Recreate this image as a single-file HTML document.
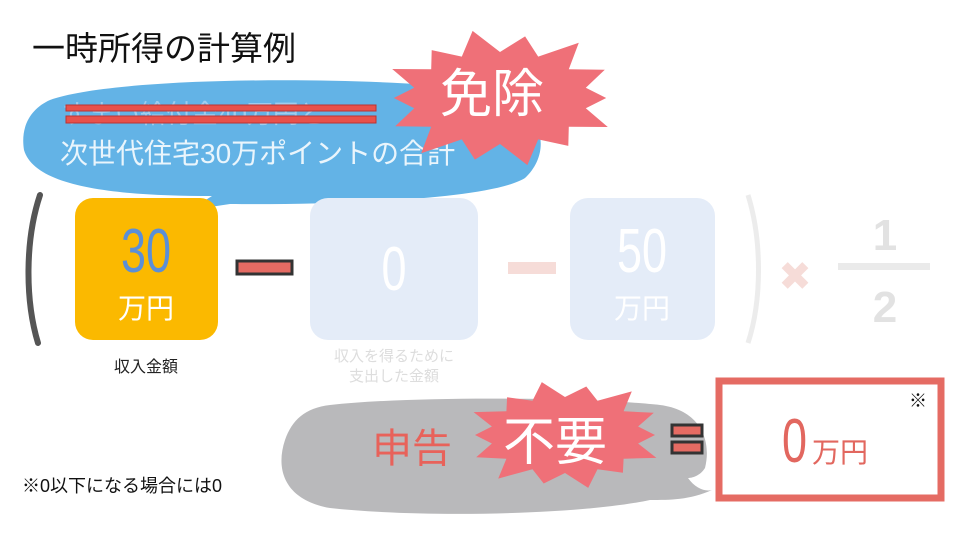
<!DOCTYPE html>
<html><head><meta charset="utf-8"><style>
body{margin:0;width:960px;height:540px;background:#fff;overflow:hidden}
svg{display:block}
text{font-family:"Liberation Sans","Noto Sans CJK JP",sans-serif}
</style></head><body>
<svg id="s" width="960" height="540" viewBox="0 0 960 540">
<text x="32" y="60" font-size="33" fill="#111">一時所得の計算例</text>
<path d="M50,100 C110,78 330,75 470,88 C545,98 555,150 525,178 C490,200 330,205 230,204 L190,210 L212,196 C120,196 35,188 24,150 C20,125 32,108 50,100 Z" fill="#63b3e6"/>
<text x="62" y="123" font-size="26" fill="#9fcdee">すまい給付金40万円と</text>
<rect x="66" y="105" width="310" height="6" fill="#e8514b" stroke="#b33" stroke-width="1"/>
<rect x="66" y="116" width="310" height="7" fill="#e8514b" stroke="#b33" stroke-width="1"/>
<text x="60" y="163" font-size="28" fill="#eaf5fc">次世代住宅30万ポイントの合計</text>
<g id="b1"></g>
<text x="440" y="112" font-size="52" fill="#fff">免除</text>
<path d="M40,195 C25,240 25,300 38,343" stroke="#555" stroke-width="6" fill="none" stroke-linecap="round"/>
<path d="M748,195 C762,240 762,300 748,343" stroke="#ececec" stroke-width="5" fill="none"/>
<rect x="75" y="198" width="143" height="142" rx="18" fill="#fbb900"/>
<text x="146" y="272" font-size="50" fill="#5b8fd6" text-anchor="middle" transform="translate(146,272) scale(0.9,1.25) translate(-146,-272)">30</text>
<text x="146" y="318" font-size="28" fill="#fff" text-anchor="middle">万円</text>
<rect x="237" y="261" width="55" height="13" fill="#e56b63" stroke="#333" stroke-width="3"/>
<rect x="310" y="198" width="168" height="142" rx="18" fill="#e4ecf8"/>
<text x="394" y="290" font-size="50" fill="#fff" text-anchor="middle" transform="translate(394,290) scale(0.9,1.25) translate(-394,-290)">0</text>
<rect x="508" y="262" width="48" height="12" fill="#f6dcd8"/>
<rect x="570" y="198" width="145" height="142" rx="18" fill="#e4ecf8"/>
<text x="642" y="272" font-size="50" fill="#fff" text-anchor="middle" transform="translate(642,272) scale(0.9,1.25) translate(-642,-272)">50</text>
<text x="642" y="318" font-size="28" fill="#fff" text-anchor="middle">万円</text>
<text x="795" y="290" font-size="40" fill="#f6dcd8" text-anchor="middle">✖</text>
<rect x="838" y="263" width="92" height="7" fill="#eaeaea"/>
<text x="885" y="250" font-size="44" font-weight="bold" fill="#e2e2e2" text-anchor="middle">1</text>
<text x="885" y="322" font-size="44" font-weight="bold" fill="#e2e2e2" text-anchor="middle">2</text>
<text x="146" y="372" font-size="16" fill="#222" text-anchor="middle">収入金額</text>
<text x="394" y="361" font-size="15" fill="#ddd" text-anchor="middle">収入を得るために</text>
<text x="394" y="381" font-size="15" fill="#ddd" text-anchor="middle">支出した金額</text>
<path d="M330,405 C420,395 600,398 660,405 C700,410 712,440 705,468 C700,476 692,478 688,478 C695,488 705,492 712,490 C690,500 670,500 650,500 C580,515 420,518 330,508 C285,500 275,470 285,440 C292,420 305,408 330,405 Z" fill="#b9b9bb"/>
<text x="372" y="462" font-size="40" fill="#e8625a">申告</text>
<rect x="672" y="425" width="30" height="11" fill="#e56b63" stroke="#333" stroke-width="3"/>
<rect x="672" y="442" width="30" height="11" fill="#e56b63" stroke="#333" stroke-width="3"/>
<g id="b2"></g>
<text x="503" y="460" font-size="52" fill="#fff">不要</text>
<rect x="719" y="381" width="222" height="117" fill="#fff" stroke="#e56b63" stroke-width="7"/>
<text x="918" y="407" font-size="18" fill="#111" text-anchor="middle">※</text>
<text x="782" y="462" font-size="50" fill="#e2675f" transform="translate(782,462) scale(0.9,1.25) translate(-782,-462)">0</text>
<text x="812" y="462" font-size="28" fill="#e2675f">万円</text>
<text x="22" y="492" font-size="18" fill="#111">※0以下になる場合には0</text>
</svg>
<script>
function burst(id,cx,cy,rx,ry,irx,iry,n,col){
 var p=[];for(var i=0;i<n*2;i++){var a=Math.PI*i/n;var o=i%2==0;var j=o?(0.9+0.2*((i*37)%7)/7):1;
 p.push((cx+Math.cos(a)*(o?rx*j:irx)).toFixed(1)+","+(cy+Math.sin(a)*(o?ry*j:iry)).toFixed(1));}
 var e=document.createElementNS("http://www.w3.org/2000/svg","polygon");
 e.setAttribute("points",p.join(" "));e.setAttribute("fill",col);document.getElementById(id).appendChild(e);}
burst("b1",500,98,118,66,88,46,14,"#ef7078");
burst("b2",565,435,100,52,75,38,14,"#ef7078");
</script>
</body></html>
